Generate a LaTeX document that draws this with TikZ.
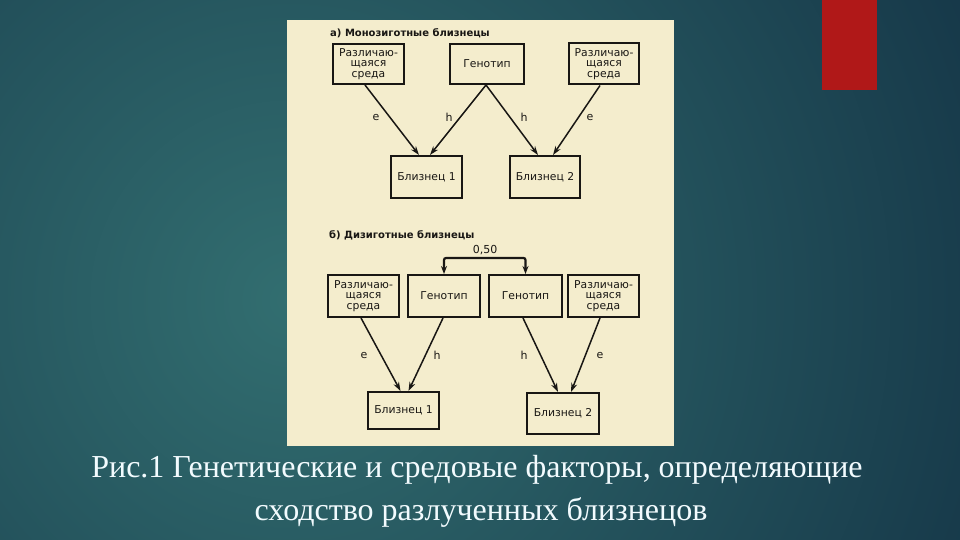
\documentclass[tikz,border=0pt]{standalone}
\usepackage{fontspec}
\setmainfont{Liberation Serif}
\newfontfamily\diafont{DejaVu Sans}
\usetikzlibrary{arrows.meta,calc}
\definecolor{bgdark}{RGB}{20,52,70}
\definecolor{bglight}{RGB}{50,110,112}
\definecolor{panel}{RGB}{244,237,205}
\definecolor{redbar}{RGB}{176,24,24}
\definecolor{ink}{RGB}{25,23,20}
\tikzset{
  box/.style={draw=ink, line width=2pt, fill=panel, inner sep=0pt, align=center,
    font=\diafont\fontsize{10.8}{10.6}\selectfont, text=ink},
  conn/.style={draw=ink, line width=1.5pt, -{Stealth[length=9pt,width=6pt]}},
  lbl/.style={font=\diafont\fontsize{11}{12}\selectfont, text=ink, inner sep=0pt},
  ttl/.style={font=\diafont\bfseries\fontsize{10}{12}\selectfont, text=ink, inner sep=0pt, anchor=west},
  captext/.style={font=\fontsize{32}{42}\selectfont, text=white!95!cyan, align=center, inner sep=0pt}
}
\begin{document}
\begin{tikzpicture}[x=1pt,y=-1pt]
\useasboundingbox (0,0) rectangle (960,540);
\begin{scope}
\clip (0,0) rectangle (960,540);
\fill[bgdark] (0,0) rectangle (960,540);
\shade[inner color=bglight, outer color=bgdark] (290,300) circle (800);
\end{scope}
\fill[redbar] (822,0) rectangle (877,90);
\fill[panel] (287,20) rectangle (674,446);

% part a
\node[ttl] (ta) at (330,33) {а) Монозиготные близнецы};
\node[box, minimum width=71pt, minimum height=40pt] (envA1) at (368.5,64) {Различаю-\\щаяся\\среда};
\node[box, minimum width=74pt, minimum height=40pt] (genA) at (487,64) {Генотип};
\node[box, minimum width=70pt, minimum height=41pt] (envA2) at (604,64) {Различаю-\\щаяся\\среда};
\node[box, minimum width=71pt, minimum height=42pt] (twinA1) at (426.5,177) {Близнец 1};
\node[box, minimum width=70pt, minimum height=42pt] (twinA2) at (545,177) {Близнец 2};
\draw[conn] ($(envA1.south)+(-3.5,0)$) -- ($(twinA1.north)+(-7.5,0)$);
\draw[conn] ($(genA.south)+(-1,0)$) -- ($(twinA1.north)+(3.5,0)$);
\draw[conn] ($(genA.south)+(-1,0)$) -- ($(twinA2.north)+(-7,0)$);
\draw[conn] ($(envA2.south)+(-4,0)$) -- ($(twinA2.north)+(8,0)$);
\node[lbl] (eA1) at (376,117) {e};
\node[lbl] (hA1) at (449,117) {h};
\node[lbl] (hA2) at (524,117) {h};
\node[lbl] (eA2) at (590,117) {e};

% part b
\node[ttl] (tb) at (329,235) {б) Дизиготные близнецы};
\node[box, minimum width=71pt, minimum height=42pt] (envB1) at (363.5,296) {Различаю-\\щаяся\\среда};
\node[box, minimum width=72pt, minimum height=42pt] (genB1) at (444,296) {Генотип};
\node[box, minimum width=73pt, minimum height=42pt] (genB2) at (525.5,296) {Генотип};
\node[box, minimum width=71pt, minimum height=42pt] (envB2) at (603.5,296) {Различаю-\\щаяся\\среда};
\node[box, minimum width=71pt, minimum height=37pt] (twinB1) at (403.5,410.5) {Близнец 1};
\node[box, minimum width=72pt, minimum height=41pt] (twinB2) at (563,413.5) {Близнец 2};
\draw[conn] ($(envB1.south)+(-2.5,0)$) -- ($(twinB1.north)+(-3,0)$);
\draw[conn] ($(genB1.south)+(-1,0)$) -- ($(twinB1.north)+(5,0)$);
\draw[conn] ($(genB2.south)+(-2.5,0)$) -- ($(twinB2.north)+(-5,0)$);
\draw[conn] ($(envB2.south)+(-3.5,0)$) -- ($(twinB2.north)+(8,0)$);
\node[lbl] (eB1) at (364,355) {e};
\node[lbl] (hB1) at (437,355) {h};
\node[lbl] (hB2) at (524,355) {h};
\node[lbl] (eB2) at (600,355) {e};
\draw[draw=ink, line width=2.2pt, rounded corners=2pt, {Stealth[length=8pt,width=6pt]}-{Stealth[length=8pt,width=6pt]}]
  (genB1.north) -- ++(0,-16) -| (genB2.north);
\node[lbl] (r) at (485,250) {0,50};

% caption
\node[captext] (c1) at (477,470) {Рис.1 Генетические и средовые факторы, определяющие};
\node[captext] (c2) at (481,512) {сходство разлученных близнецов};
\end{tikzpicture}
\end{document}
